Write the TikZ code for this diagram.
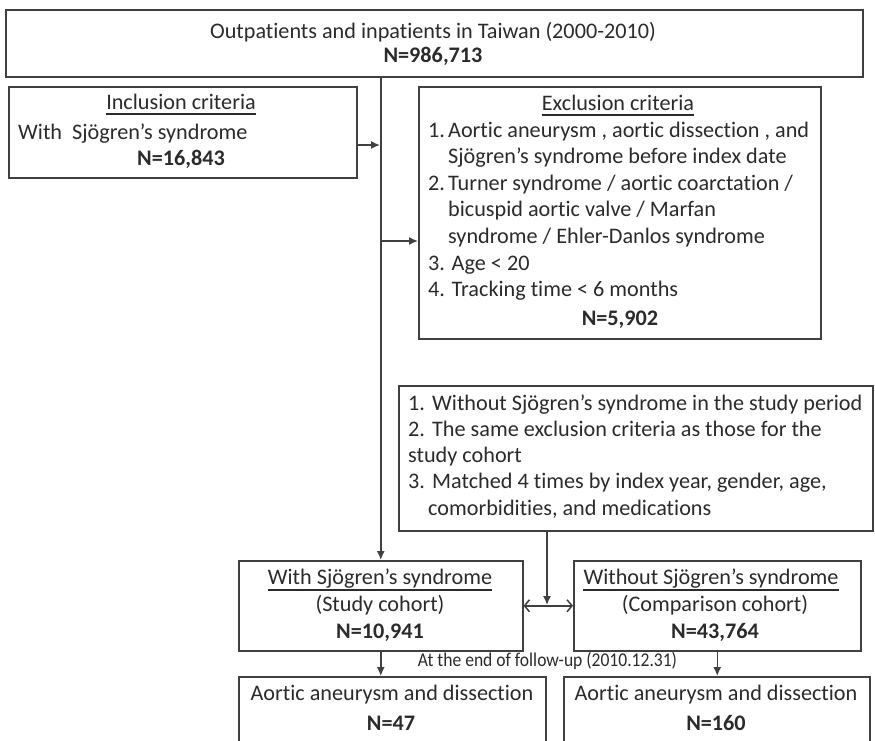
\documentclass[tikz,border=0pt]{standalone}
\usepackage{fontspec}
\setmainfont[Ligatures=NoCommon]{Carlito}
\usetikzlibrary{arrows.meta,calc}
\definecolor{ln}{HTML}{404040}
\definecolor{tx}{HTML}{2B2B2B}
\newcommand\myfs{\fontsize{22.2}{26}\selectfont}
\begin{document}
\begin{tikzpicture}[x=1pt,y=-1pt,
  box/.style={draw=ln, line width=1.5pt, inner sep=0pt, anchor=north west},
  txt/.style={inner sep=0pt, text=tx, anchor=base, font=\myfs},
  txl/.style={txt, anchor=base west},
  bld/.style={txt, font=\myfs\bfseries},
  uline/.style={draw=tx, line width=1.1pt},
  arr/.style={draw=ln, line width=1.5pt, -{Latex[length=9pt,width=8pt]}},
  dbl/.style={draw=ln, line width=1.5pt, {Straight Barb[length=5pt,width=12pt]}-{Straight Barb[length=5pt,width=12pt]}}]
\useasboundingbox (0,0) rectangle (875,740);
\clip (0,0) rectangle (875,740);
\fill[white] (0,0) rectangle (875,740);
% boxes
\node[box, minimum width=857pt, minimum height=67pt] (top) at (5,9) {};
\node[box, minimum width=348pt, minimum height=91pt] (incl) at (8,86) {};
\node[box, minimum width=402pt, minimum height=252pt] (excl) at (418,86) {};
\node[box, minimum width=474pt, minimum height=145pt] (match) at (398,385) {};
\node[box, minimum width=284pt, minimum height=90pt] (study) at (238,560) {};
\node[box, minimum width=287pt, minimum height=90pt] (comp) at (573,560) {};
\node[box, minimum width=307pt, minimum height=100pt] (res1) at (238,676) {};
\node[box, minimum width=306pt, minimum height=100pt] (res2) at (563,676) {};
% top text
\node[txt] (t1) at (433,38) {Outpatients and inpatients in Taiwan (2000-2010)};
\node[bld] (t2) at (433,62) {N=986,713};
% inclusion
\node[txt] (inh) at (181,109) {Inclusion criteria};
\draw[uline] ([yshift=-5pt]inh.base west) -- ([yshift=-5pt]inh.base east);
\node[txl] (in1) at (18,139) {With\ \ Sjögren’s syndrome};
\node[bld] (in2) at (181,165) {N=16,843};
% exclusion
\node[txt] (exh) at (618,110) {Exclusion criteria};
\draw[uline] ([yshift=-5pt]exh.base west) -- ([yshift=-5pt]exh.base east);
\node[txl] (ex1) at (428,137) {\makebox[20pt][l]{1.}Aortic aneurysm , aortic dissection , and};
\node[txl] (ex2) at (448,163.6) {Sjögren’s syndrome before index date};
\node[txl] (ex3) at (428,190.2) {\makebox[20pt][l]{2.}Turner syndrome / aortic coarctation /};
\node[txl] (ex4) at (448,216.8) {bicuspid aortic valve / Marfan};
\node[txl] (ex5) at (448,243.4) {syndrome / Ehler-Danlos syndrome};
\node[txl] (ex6) at (428,270) {3. Age < 20};
\node[txl] (ex7) at (428,296.6) {4. Tracking time < 6 months};
\node[bld] (ex8) at (620,325) {N=5,902};
% matching
\node[txl] (m1) at (408,410) {\makebox[24pt][l]{1.}Without Sjögren’s syndrome in the study period};
\node[txl] (m2) at (408,436.3) {\makebox[24pt][l]{2.}The same exclusion criteria as those for the};
\node[txl] (m3) at (408,462.5) {study cohort};
\node[txl] (m4) at (408,488.8) {\makebox[24pt][l]{3.}Matched 4 times by index year, gender, age,};
\node[txl] (m5) at (428,515) {comorbidities, and medications};
% study cohort
\node[txt] (s1) at (380,584) {With Sjögren’s syndrome};
\draw[uline] ([yshift=-6pt]s1.base west) -- ([yshift=-6pt]s1.base east);
\node[txt] (s2) at (380,611) {(Study cohort)};
\node[bld] (s3) at (380,638) {N=10,941};
% comparison cohort
\node[txt] (c1) at (711,584) {Without Sjögren’s syndrome};
\draw[uline] ([yshift=-6pt]c1.base west) -- ([yshift=-6pt]c1.base east);
\node[txt] (c2) at (715,611) {(Comparison cohort)};
\node[bld] (c3) at (715,638) {N=43,764};
% results
\node[txt] (r1) at (392,700) {Aortic aneurysm and dissection};
\node[bld] (r2) at (391,730) {N=47};
\node[txt] (r3) at (716,700) {Aortic aneurysm and dissection};
\node[bld] (r4) at (716,730) {N=160};
\node[txt, font=\fontsize{19.5}{23}\selectfont] (lab) at (547.5,666) {\scalebox{0.9}[1]{At the end of follow-up (2010.12.31)}};
% connectors
\coordinate (j1) at (380,145);
\coordinate (j2) at (380,241);
\coordinate (jm) at (547,605);
\draw[arr] (study.north |- top.south) -- (study.north);
\draw[arr] (incl.east |- j1) -- (j1);
\draw[arr] (j2) -- (excl.west |- j2);
\draw[arr] (jm |- match.south) -- (jm);
\draw[dbl] (study.east) -- (comp.west);
\draw[arr] (study.south) -- (study.south |- res1.north);
\draw[arr] (comp.south) -- (comp.south |- res2.north);
\end{tikzpicture}
\end{document}
